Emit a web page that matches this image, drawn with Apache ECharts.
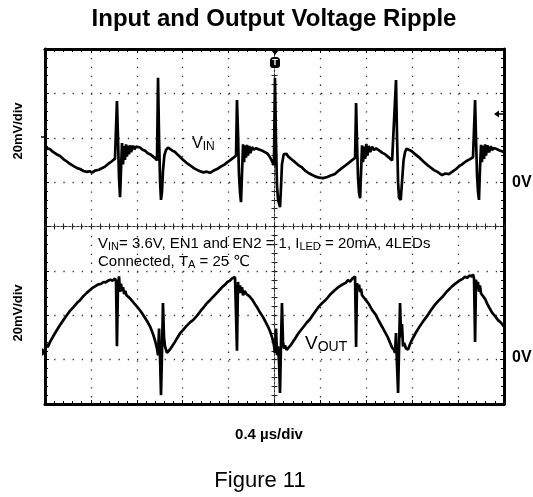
<!DOCTYPE html>
<html><head><meta charset="utf-8">
<script src="https://cdn.jsdelivr.net/npm/echarts@6/dist/echarts.min.js"></script>
<style>html,body{margin:0;padding:0;background:#fff}#c{width:533px;height:497px}</style>
</head><body><div id="c"></div>
<script>
// time in µs (0.4 µs/div), voltage in mV relative to each channel's 0V (20 mV/div)
const timeRange = [0, 4];
const timeStep = 0.4;
const vinRange = [-100, 60];   // VIN channel: 0V sits 1 div above centre
const voutRange = [-20, 140];  // VOUT channel: 0V sits 3 div below centre
const voltStep = 20;

const vinData = [[0,13.9],[0.02,15.3],[0.044,14.8],[0.07,13.6],[0.1,12.6],[0.131,11.8],[0.16,10.4],[0.19,9.3],[0.218,8.2],[0.25,7.2],[0.28,6.3],[0.305,5.9],[0.335,5.0],[0.366,4.6],[0.39,4.9],[0.41,4.3],[0.436,5.2],[0.47,5.6],[0.5,6.4],[0.523,7.0],[0.55,8.2],[0.58,9.3],[0.61,10.6],[0.619,11.5],[0.627,36.5],[0.636,20],[0.645,2],[0.654,-6.8],[0.662,5],[0.671,17.6],[0.68,8],[0.688,16.2],[0.697,10],[0.706,17.0],[0.714,11.5],[0.723,16.5],[0.732,12.5],[0.741,16.6],[0.75,13.5],[0.767,16.4],[0.78,14.8],[0.793,16.0],[0.81,15.2],[0.828,15.6],[0.85,14.6],[0.872,14.2],[0.895,13.0],[0.915,12.6],[0.94,11.6],[0.959,10.8],[0.976,9.8],[0.985,47],[0.994,20],[1.003,0],[1.011,-8.0],[1.02,-4],[1.028,5],[1.04,12],[1.055,14.5],[1.072,15.6],[1.089,15.2],[1.11,14.2],[1.133,13.6],[1.155,12.4],[1.176,11.4],[1.2,10.2],[1.23,8.8],[1.264,7.6],[1.3,6.2],[1.33,5.4],[1.351,4.9],[1.38,4.4],[1.41,4.7],[1.438,4.2],[1.47,5.2],[1.5,5.9],[1.525,6.8],[1.56,7.8],[1.59,9.0],[1.612,9.8],[1.64,10.9],[1.656,11.6],[1.665,12],[1.673,37],[1.682,22],[1.69,4],[1.7,-5],[1.708,-9.0],[1.717,4],[1.726,17],[1.735,9],[1.743,16.5],[1.752,11],[1.76,16.8],[1.769,12],[1.78,16.3],[1.79,13],[1.804,15.8],[1.82,14.6],[1.839,15.3],[1.86,14.8],[1.874,14.9],[1.9,14.0],[1.917,13.7],[1.94,12.8],[1.961,11.2],[1.98,9.2],[1.995,7.7],[2.004,47],[2.013,18],[2.022,-2],[2.031,-8],[2.048,-11.3],[2.057,-2],[2.065,8],[2.08,12.5],[2.092,12.0],[2.105,12.8],[2.118,11.6],[2.15,10.2],[2.179,9.0],[2.21,7.6],[2.24,6.6],[2.266,5.2],[2.3,4.0],[2.33,3.2],[2.353,2.6],[2.39,2.0],[2.423,1.8],[2.46,2.3],[2.49,3.0],[2.527,3.7],[2.56,5.2],[2.59,6.4],[2.615,7.4],[2.65,8.8],[2.676,9.9],[2.702,10.9],[2.711,35.6],[2.719,18],[2.728,2],[2.737,-5],[2.746,-7.2],[2.754,4],[2.763,16.6],[2.772,9],[2.78,16],[2.789,10.5],[2.8,17.2],[2.81,12],[2.82,16.3],[2.835,13.5],[2.85,16.0],[2.867,14.5],[2.885,15.2],[2.9,14.4],[2.92,14.0],[2.94,13.2],[2.963,12.6],[2.985,11.6],[3.007,10.6],[3.025,9.8],[3.042,9.2],[3.059,46],[3.068,20],[3.077,0],[3.085,-7],[3.1,-8.0],[3.111,0],[3.125,10],[3.138,13.6],[3.15,15.0],[3.164,15.4],[3.18,14.4],[3.199,13.8],[3.23,12.4],[3.268,10.8],[3.3,9.2],[3.33,7.8],[3.355,6.8],[3.39,5.4],[3.42,4.6],[3.46,3.2],[3.49,3.9],[3.52,3.6],[3.547,4.6],[3.58,5.8],[3.61,7.2],[3.634,8.0],[3.67,9.4],[3.704,10.4],[3.73,11.2],[3.739,12],[3.748,37],[3.756,20],[3.765,3],[3.773,-4],[3.782,-8.0],[3.79,5],[3.8,16.8],[3.808,9],[3.817,16.4],[3.826,10.5],[3.835,17],[3.843,12],[3.855,16.6],[3.87,13.4],[3.885,16.2],[3.896,14.4],[3.91,15.4],[3.922,14.5],[3.935,14.9],[3.948,14.0],[3.962,14.3],[3.974,13.8],[4.0,13.6]];

const voutData = [[0,4.8],[0.012,7.0],[0.024,5.6],[0.044,8.0],[0.07,10.4],[0.1,13.0],[0.131,15.6],[0.16,17.8],[0.19,20.0],[0.218,22.0],[0.25,23.8],[0.28,25.6],[0.305,26.8],[0.335,28.6],[0.366,30.2],[0.39,31.3],[0.41,32.2],[0.436,33.0],[0.46,33.8],[0.49,34.2],[0.51,35.0],[0.53,34.8],[0.55,35.6],[0.57,36.0],[0.59,35.6],[0.61,36.6],[0.619,35.2],[0.627,6.0],[0.636,34],[0.645,37.5],[0.654,30.5],[0.662,34.2],[0.671,31.0],[0.68,32.6],[0.69,29.6],[0.7,31.0],[0.71,29.0],[0.741,27.6],[0.77,25.8],[0.8,24.0],[0.819,22.8],[0.85,20.6],[0.889,17.4],[0.915,15.0],[0.941,11.6],[0.96,8.4],[0.976,5.0],[0.985,2.0],[0.994,14.0],[1.003,0],[1.011,-16],[1.02,4],[1.028,25.5],[1.037,10],[1.046,6],[1.063,3.0],[1.089,4.6],[1.11,6.2],[1.133,8.0],[1.155,10.0],[1.176,11.8],[1.2,13.2],[1.23,15.0],[1.264,16.8],[1.29,17.8],[1.322,19.6],[1.351,21.6],[1.38,23.4],[1.41,25.4],[1.438,26.8],[1.467,28.4],[1.5,30.2],[1.525,31.6],[1.55,33.0],[1.57,33.8],[1.59,35.0],[1.612,35.6],[1.63,36.6],[1.645,36.2],[1.656,37.2],[1.665,36.4],[1.673,4.0],[1.682,35],[1.69,30],[1.7,33.5],[1.708,30.0],[1.717,32.6],[1.726,29.0],[1.74,31.0],[1.755,29.6],[1.769,30.2],[1.78,28.6],[1.804,27.2],[1.83,25.0],[1.848,23.6],[1.874,21.2],[1.9,19.2],[1.92,17.2],[1.944,14.8],[1.961,12.8],[1.979,10.0],[1.995,6.6],[2.004,3.0],[2.013,14.0],[2.022,2.0],[2.031,6.0],[2.04,-2.0],[2.048,-15.0],[2.057,8.0],[2.065,25.5],[2.074,8.0],[2.083,5.0],[2.092,6.4],[2.105,4.4],[2.118,4.0],[2.14,6.4],[2.16,8.0],[2.179,9.4],[2.2,11.2],[2.222,12.8],[2.25,14.6],[2.28,16.6],[2.309,18.2],[2.34,20.6],[2.379,23.4],[2.41,25.2],[2.44,26.6],[2.458,27.6],[2.49,29.6],[2.527,31.4],[2.56,32.8],[2.597,34.0],[2.62,34.6],[2.64,35.8],[2.658,35.2],[2.68,36.6],[2.695,36.0],[2.702,37.4],[2.711,5.7],[2.719,34.5],[2.728,31.4],[2.737,33.8],[2.746,30.4],[2.754,32.0],[2.763,29.0],[2.78,28.6],[2.8,26.6],[2.82,25.2],[2.85,22.4],[2.88,20.4],[2.91,17.4],[2.94,14.6],[2.963,12.4],[2.99,9.8],[3.007,7.6],[3.025,5.4],[3.042,4.4],[3.05,3.0],[3.059,12.0],[3.068,-3.0],[3.077,-15.0],[3.085,4.0],[3.094,25.5],[3.103,10.0],[3.111,16.0],[3.12,6.0],[3.13,7.5],[3.146,5.0],[3.164,4.6],[3.18,6.8],[3.199,9.0],[3.23,12.0],[3.268,15.2],[3.3,17.6],[3.329,19.6],[3.36,22.0],[3.399,24.8],[3.43,26.6],[3.469,28.6],[3.5,30.6],[3.547,33.0],[3.58,34.4],[3.617,35.8],[3.64,36.4],[3.66,37.4],[3.678,36.8],[3.7,38.0],[3.72,37.4],[3.73,38.4],[3.739,36.5],[3.748,8.0],[3.756,36.0],[3.765,32.0],[3.773,35.0],[3.782,30.6],[3.79,33.4],[3.8,29.8],[3.817,30.2],[3.835,27.4],[3.855,25.0],[3.87,23.6],[3.896,21.2],[3.922,19.6],[3.948,17.8],[3.974,16.6],[4.0,14.8]];

const FONT = '"Liberation Sans", Arial, "DejaVu Sans", sans-serif';
const chart = echarts.init(document.getElementById('c'), null, {renderer: 'canvas'});

const dotsV = {color: '#333', width: 1.3, type: [1.3, 7.6]};
const dotsH = {color: '#333', width: 1.3, type: [1.3, 7.9]};

function borderAxis(extra) {
  return Object.assign({
    type: 'value',
    axisLine: {show: true, onZero: false, lineStyle: {color: '#000', width: 3}},
    axisTick: {show: true, inside: true, length: 4, lineStyle: {color: '#000', width: 1}},
    minorTick: {show: true, splitNumber: 5, length: 3, lineStyle: {color: '#000', width: 1}},
    axisLabel: {show: false},
    splitLine: {show: false},
    minorSplitLine: {show: false}
  }, extra);
}
function centreAxis(extra, inside) {
  return Object.assign({
    type: 'value',
    axisLine: {show: true, onZero: true, onZeroAxisIndex: 2, lineStyle: {color: '#333', width: 1, type: [2, 2]}},
    axisTick: {show: true, inside: inside, length: 3, lineStyle: {color: '#222', width: 1}},
    minorTick: {show: true, splitNumber: 5, length: 3, lineStyle: {color: '#222', width: 1}},
    axisLabel: {show: false},
    splitLine: {show: false}
  }, extra);
}

const subRich = (n, s, sub) => ({
  n: {fontSize: n, fontFamily: FONT, lineHeight: n + 2, fill: '#000'},
  s: {fontSize: s, fontFamily: FONT, lineHeight: sub, verticalAlign: 'bottom', fill: '#000'}
});

const option = {
  animation: false,
  backgroundColor: '#fff',
  grid: {left: 45, right: 29, top: 49, bottom: 93, containLabel: false},
  xAxis: [
    borderAxis({position: 'bottom', min: timeRange[0], max: timeRange[1], interval: timeStep,
      splitLine: {show: true, lineStyle: dotsV}}),
    borderAxis({position: 'top', min: timeRange[0], max: timeRange[1], interval: timeStep}),
    {type: 'value', min: -5, max: 5, show: false},
    centreAxis({position: 'bottom', min: timeRange[0], max: timeRange[1], interval: timeStep}, true),
    centreAxis({position: 'bottom', min: timeRange[0], max: timeRange[1], interval: timeStep}, false)
  ],
  yAxis: [
    borderAxis({position: 'left', min: vinRange[0], max: vinRange[1], interval: voltStep,
      splitLine: {show: true, lineStyle: dotsH}}),
    borderAxis({position: 'right', min: voutRange[0], max: voutRange[1], interval: voltStep}),
    {type: 'value', min: -4, max: 4, show: false},
    centreAxis({position: 'left', min: -4, max: 4, interval: 1}, true),
    centreAxis({position: 'left', min: -4, max: 4, interval: 1}, false)
  ],
  series: [
    {name: 'VIN', type: 'line', xAxisIndex: 0, yAxisIndex: 0, data: vinData, showSymbol: false,
      lineStyle: {color: '#000', width: 2.7}, z: 5},
    {name: 'VOUT', type: 'line', xAxisIndex: 0, yAxisIndex: 1, data: voutData, showSymbol: false,
      lineStyle: {color: '#000', width: 2.7}, z: 5}
  ],
  graphic: [
    {type: 'text', x: 274, y: 19, style: {text: 'Input and Output Voltage Ripple', font: 'bold 24px ' + FONT, fill: '#000', align: 'center', verticalAlign: 'middle'}},
    {type: 'text', x: 18, y: 131, rotation: Math.PI / 2, style: {text: '20mV/div', font: 'bold 13px ' + FONT, fill: '#000', align: 'center', verticalAlign: 'middle'}},
    {type: 'text', x: 18, y: 313, rotation: Math.PI / 2, style: {text: '20mV/div', font: 'bold 13px ' + FONT, fill: '#000', align: 'center', verticalAlign: 'middle'}},
    {type: 'text', x: 512, y: 183, style: {text: '0V', font: 'bold 16px ' + FONT, fill: '#000', align: 'left', verticalAlign: 'middle'}},
    {type: 'text', x: 512, y: 358, style: {text: '0V', font: 'bold 16px ' + FONT, fill: '#000', align: 'left', verticalAlign: 'middle'}},
    {type: 'text', x: 192, y: 144, style: {text: '{n|V}{s|IN}', verticalAlign: 'middle', rich: subRich(16, 12, 9)}},
    {type: 'text', x: 305, y: 344, style: {text: '{n|V}{s|OUT}', verticalAlign: 'middle', rich: subRich(19, 14, 10)}},
    {type: 'text', x: 98, y: 244, style: {text: '{n|V}{s|IN}{n|= 3.6V, EN1 and EN2 = 1, I}{s|LED}{n| = 20mA, 4LEDs}', verticalAlign: 'middle', rich: subRich(15, 11, 8)}},
    {type: 'text', x: 98, y: 262, style: {text: '{n|Connected, T}{s|A}{n| = 25 ℃}', verticalAlign: 'middle', rich: subRich(15, 11, 8)}},
    {type: 'text', x: 269, y: 435, style: {text: '0.4 µs/div', font: 'bold 15px ' + FONT, fill: '#000', align: 'center', verticalAlign: 'middle'}},
    {type: 'text', x: 260, y: 481, style: {text: 'Figure 11', font: '22px ' + FONT, fill: '#000', align: 'center', verticalAlign: 'middle'}},
    // trigger position marker
    {type: 'polygon', shape: {points: [[269.5, 48], [280.5, 48], [275, 55]]}, style: {fill: '#000'}, z: 20},
    {type: 'rect', shape: {x: 270, y: 57, width: 10, height: 11, r: [4, 4, 3, 3]}, style: {fill: '#000'}, z: 20},
    {type: 'text', x: 275, y: 62.5, style: {text: 'T', font: 'bold 9px ' + FONT, fill: '#fff', align: 'center', verticalAlign: 'middle'}, z: 21},
    // trigger level marker
    {type: 'polygon', shape: {points: [[494, 114], [499, 110.5], [499, 117.5]]}, style: {fill: '#000'}, z: 20},
    {type: 'line', shape: {x1: 498, y1: 114, x2: 503, y2: 114}, style: {stroke: '#000', lineWidth: 1.5}, z: 20},
    // channel reference markers on the left edge
    {type: 'line', shape: {x1: 41, y1: 137, x2: 45, y2: 137}, style: {stroke: '#000', lineWidth: 1.5}, z: 20},
    {type: 'polygon', shape: {points: [[42, 348], [47, 352], [42, 356]]}, style: {fill: '#000'}, z: 20}
  ]
};
chart.setOption(option);
</script>
</body></html>
